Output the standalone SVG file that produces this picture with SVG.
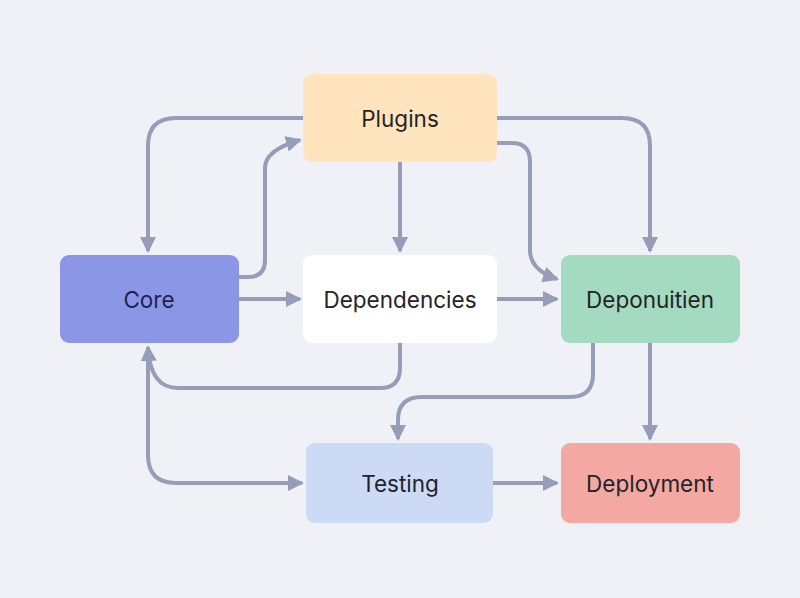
<svg xmlns="http://www.w3.org/2000/svg" width="800" height="598" viewBox="0 0 800 598">
<defs>
<marker id="ah" viewBox="0 0 16 16" refX="14" refY="8" markerWidth="16" markerHeight="16" markerUnits="userSpaceOnUse" orient="auto">
<path d="M0,0 L16,8 L0,16 Z" fill="#959DB8"/>
</marker>
<style>
.e{fill:none;stroke:#959DB8;stroke-width:4;stroke-linecap:butt;marker-end:url(#ah)}
.n{stroke:none}
.t{font-family:Inter,"Liberation Sans",sans-serif;font-size:22.5px;fill:#222428;text-anchor:middle;dominant-baseline:central}
</style>
</defs>
<rect width="800" height="598" fill="#EFF1F7"/>
<g id="connectors">
<path class="e" d="M303,118 H176 Q148,118 148,146 V251"/>
<path class="e" d="M239,277 H248 Q265,277 265,260 V168 Q265,150 300,140"/>
<path class="e" d="M400,162 V251"/>
<path class="e" d="M497,118 H622 Q650,118 650,146 V251"/>
<path class="e" d="M497,143 H512 Q530,143 530,162 V250 Q530,270 557,279"/>
<path class="e" d="M239,299 H300"/>
<path class="e" d="M497,299 H557"/>
<path class="e" d="M400,343 V368 Q400,388 380,388 H178 Q150,388 148,347"/>
<path class="e" d="M593,343 V374 Q593,397 570,397 H422 Q398,397 398,420 V439"/>
<path class="e" d="M148,360 V455 Q148,483 176,483 H302"/>
<path class="e" d="M650,343 V439"/>
<path class="e" d="M493,483 H557"/>
</g>
<g id="plugins"><rect class="n" x="303" y="74" width="194" height="88" rx="9" fill="#FFE4BE"/><text class="t" x="400" y="118">Plugins</text></g>
<g id="core"><rect class="n" x="60" y="255" width="179" height="88" rx="9" fill="#8C96E6"/><text class="t" x="149" y="299" style="fill:#1E2250">Core</text></g>
<g id="dependencies"><rect class="n" x="303" y="255" width="194" height="88" rx="9" fill="#FFFFFF"/><text class="t" x="400" y="299">Dependencies</text></g>
<g id="deponuitien"><rect class="n" x="561" y="255" width="179" height="88" rx="9" fill="#A4DBC0"/><text class="t" x="650" y="299">Deponuitien</text></g>
<g id="testing"><rect class="n" x="306" y="443" width="187" height="80" rx="9" fill="#CCDAF5"/><text class="t" x="400" y="483">Testing</text></g>
<g id="deployment"><rect class="n" x="561" y="443" width="179" height="80" rx="9" fill="#F4A8A2"/><text class="t" x="650" y="483">Deployment</text></g>
</svg>
